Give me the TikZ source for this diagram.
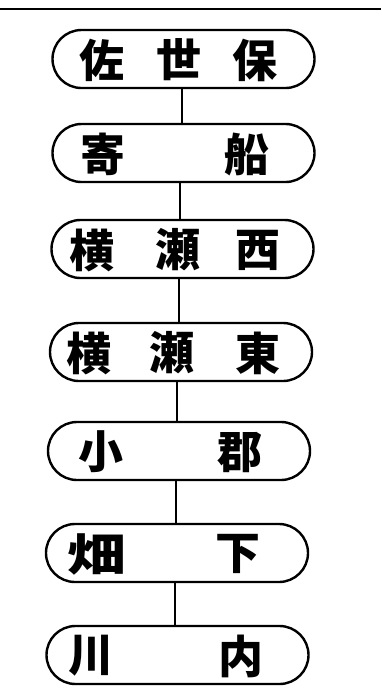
\documentclass[tikz,border=0pt]{standalone}
\usepackage{fontspec}
\newfontfamily\jp{Noto Sans CJK JP}
\begin{document}
\begin{tikzpicture}[x=1pt,y=-1pt,
  stn/.style={draw, line width=2.4pt, rounded corners=29pt, minimum width=262pt, minimum height=58pt, inner sep=0pt},
  ch/.style={font=\jp\bfseries\fontsize{45}{45}\selectfont, inner sep=0pt},
  link/.style={line width=2pt}]
\useasboundingbox (0,0) rectangle (381,689);
\fill[white] (0,0) rectangle (381,689);
\coordinate (tl) at (0,9);
\coordinate (tr) at (381,9);
\draw[line width=2pt] (tl) -- (tr);
% stations
\node[stn] (b1) at (183.5,59) {};
\node[stn] (b2) at (183.5,153) {};
\node[stn] (b3) at (182.5,249) {};
\node[stn] (b4) at (181,352) {};
\node[stn] (b5) at (179,451) {};
\node[stn] (b6) at (177,553) {};
\node[stn] (b7) at (177.5,655) {};
% texts
\node[ch] (t1a) at (102,60) {佐};
\node[ch] (t1b) at (179,60) {世};
\node[ch] (t1c) at (255,60) {保};
\node[ch] (t2a) at (103,154) {寄};
\node[ch] (t2b) at (247,154) {船};
\node[ch] (t3a) at (92,250) {横};
\node[ch] (t3b) at (178,250) {瀬};
\node[ch] (t3c) at (258,250) {西};
\node[ch] (t4a) at (89,353) {横};
\node[ch] (t4b) at (172,353) {瀬};
\node[ch] (t4c) at (258,353) {東};
\node[ch] (t5a) at (101,452) {小};
\node[ch] (t5b) at (240,452) {郡};
\node[ch, xscale=1.3] (t6a) at (97,554) {畑};
\node[ch] (t6b) at (238,554) {下};
\node[ch] (t7a) at (91,656) {川};
\node[ch] (t7b) at (241,656) {内};
% connectors
\coordinate (x1) at (182,0);
\coordinate (x2) at (180,0);
\coordinate (x3) at (179,0);
\coordinate (x4) at (177,0);
\coordinate (x5) at (176,0);
\coordinate (x6) at (175,0);
\draw[link] (b1.south -| x1) -- (b2.north -| x1);
\draw[link] (b2.south -| x2) -- (b3.north -| x2);
\draw[link] (b3.south -| x3) -- (b4.north -| x3);
\draw[link] (b4.south -| x4) -- (b5.north -| x4);
\draw[link] (b5.south -| x5) -- (b6.north -| x5);
\draw[link] (b6.south -| x6) -- (b7.north -| x6);
\end{tikzpicture}
\end{document}
